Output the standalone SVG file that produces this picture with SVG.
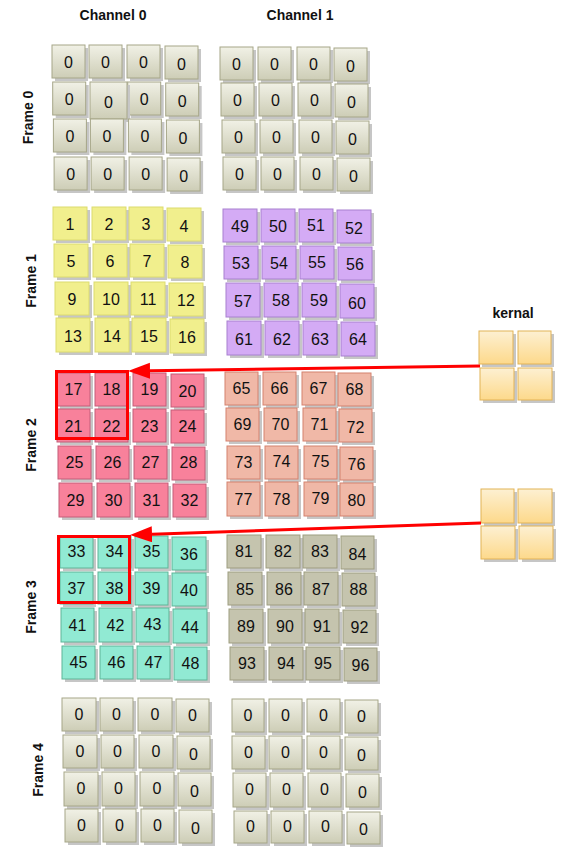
<svg xmlns="http://www.w3.org/2000/svg" width="563" height="853" viewBox="0 0 563 853">
<defs>
<linearGradient id="gg" x1="0" y1="0" x2="0" y2="1"><stop offset="0" stop-color="#f1f1e6"/><stop offset="1" stop-color="#cdcdb6"/></linearGradient>
<linearGradient id="kg" x1="0" y1="0" x2="0" y2="1"><stop offset="0" stop-color="#fdf0d2"/><stop offset="1" stop-color="#fdd98b"/></linearGradient>
<marker id="ah" markerUnits="userSpaceOnUse" markerWidth="24" markerHeight="18" refX="0" refY="8" orient="auto" viewBox="0 0 24 18"><path d="M0,0 L22,8 L0,16 z" fill="#ff0000"/></marker>
<style>
.sh{fill:#c6c6c6}
.gy{fill:url(#gg);stroke:#a6a688;stroke-width:1}
.gf{fill:#c5c4ae;stroke:#9e9d80;stroke-width:1}
.ye{fill:#f1ef8d;stroke:#dcdb6f;stroke-width:1}
.pu{fill:#d4abf5;stroke:#a880cf;stroke-width:1}
.pk{fill:#f8819b;stroke:#c45c78;stroke-width:1}
.sa{fill:#f0b8a7;stroke:#d4826f;stroke-width:1}
.te{fill:#91ead3;stroke:#5fb497;stroke-width:1}
.ke{fill:url(#kg);stroke:#e2b356;stroke-width:1}
text{font-family:"Liberation Sans",Arial,sans-serif;fill:#111}
.n{font-size:16px;text-anchor:middle}
.t{font-size:14px;font-weight:bold;text-anchor:middle}
.hl{fill:none;stroke:#ff0000;stroke-width:3}
.cn{stroke:#ff0000;stroke-width:3;fill:none}
</style>
</defs>
<rect width="563" height="853" fill="#ffffff"/>
<g id="labels">
<text class="t" x="113" y="20">Channel 0</text>
<text class="t" x="300" y="20">Channel 1</text>
<text class="t" x="513" y="318">kernal</text>
<text class="t" transform="translate(33,117.5) rotate(-90)">Frame 0</text>
<text class="t" transform="translate(35.5,281) rotate(-90)">Frame 1</text>
<text class="t" transform="translate(36,445) rotate(-90)">Frame 2</text>
<text class="t" transform="translate(36,607) rotate(-90)">Frame 3</text>
<text class="t" transform="translate(43,770) rotate(-90)">Frame 4</text>
</g>
<g id="frame0-channel0">
<g id="f0c0-1" transform="translate(52,45)"><rect class="sh" x="3" y="3" width="33" height="33"/><rect class="gy" width="33" height="33"/><text class="n" x="16.5" y="23">0</text></g>
<g id="f0c0-2" transform="translate(89,45)"><rect class="sh" x="3" y="3" width="33" height="33"/><rect class="gy" width="33" height="33"/><text class="n" x="16.5" y="23">0</text></g>
<g id="f0c0-3" transform="translate(127,45)"><rect class="sh" x="3" y="3" width="33" height="33"/><rect class="gy" width="33" height="33"/><text class="n" x="16.5" y="23">0</text></g>
<g id="f0c0-4" transform="translate(165,46)"><rect class="sh" x="3" y="3" width="33" height="33"/><rect class="gy" width="33" height="33"/><text class="n" x="16.5" y="24">0</text></g>
<g id="f0c0-5" transform="translate(52.7,82)"><rect class="sh" x="3" y="3" width="33" height="33"/><rect class="gy" width="33" height="33"/><text class="n" x="16.5" y="23">0</text></g>
<g id="f0c0-7" transform="translate(127.7,82)"><rect class="sh" x="3" y="3" width="33" height="33"/><rect class="gy" width="33" height="33"/><text class="n" x="16.5" y="23">0</text></g>
<g id="f0c0-6" transform="translate(90,82)"><rect class="sh" x="3" y="3" width="37" height="37"/><rect class="gy" width="37" height="37"/><text class="n" x="18.5" y="26">0</text></g>
<g id="f0c0-8" transform="translate(165.7,83)"><rect class="sh" x="3" y="3" width="33" height="33"/><rect class="gy" width="33" height="33"/><text class="n" x="16.5" y="24">0</text></g>
<g id="f0c0-9" transform="translate(53.4,119)"><rect class="sh" x="3" y="3" width="33" height="33"/><rect class="gy" width="33" height="33"/><text class="n" x="16.5" y="23">0</text></g>
<g id="f0c0-10" transform="translate(90.4,119)"><rect class="sh" x="3" y="3" width="33" height="33"/><rect class="gy" width="33" height="33"/><text class="n" x="16.5" y="23">0</text></g>
<g id="f0c0-11" transform="translate(128.4,119)"><rect class="sh" x="3" y="3" width="33" height="33"/><rect class="gy" width="33" height="33"/><text class="n" x="16.5" y="23">0</text></g>
<g id="f0c0-12" transform="translate(166.4,120)"><rect class="sh" x="3" y="3" width="33" height="33"/><rect class="gy" width="33" height="33"/><text class="n" x="16.5" y="24">0</text></g>
<g id="f0c0-13" transform="translate(54.1,157)"><rect class="sh" x="3" y="3" width="33" height="33"/><rect class="gy" width="33" height="33"/><text class="n" x="16.5" y="23">0</text></g>
<g id="f0c0-14" transform="translate(91.1,157)"><rect class="sh" x="3" y="3" width="33" height="33"/><rect class="gy" width="33" height="33"/><text class="n" x="16.5" y="23">0</text></g>
<g id="f0c0-15" transform="translate(129.1,157)"><rect class="sh" x="3" y="3" width="33" height="33"/><rect class="gy" width="33" height="33"/><text class="n" x="16.5" y="23">0</text></g>
<g id="f0c0-16" transform="translate(167.1,158)"><rect class="sh" x="3" y="3" width="33" height="33"/><rect class="gy" width="33" height="33"/><text class="n" x="16.5" y="24">0</text></g>
</g>
<g id="frame0-channel1">
<g id="f0c1-1" transform="translate(220,47)"><rect class="sh" x="3" y="3" width="33" height="33"/><rect class="gy" width="33" height="33"/><text class="n" x="16.5" y="23">0</text></g>
<g id="f0c1-2" transform="translate(258,47)"><rect class="sh" x="3" y="3" width="33" height="33"/><rect class="gy" width="33" height="33"/><text class="n" x="16.5" y="23">0</text></g>
<g id="f0c1-3" transform="translate(297,47)"><rect class="sh" x="3" y="3" width="33" height="33"/><rect class="gy" width="33" height="33"/><text class="n" x="16.5" y="23">0</text></g>
<g id="f0c1-4" transform="translate(334,48)"><rect class="sh" x="3" y="3" width="33" height="33"/><rect class="gy" width="33" height="33"/><text class="n" x="16.5" y="24">0</text></g>
<g id="f0c1-5" transform="translate(221,83)"><rect class="sh" x="3" y="3" width="33" height="33"/><rect class="gy" width="33" height="33"/><text class="n" x="16.5" y="23">0</text></g>
<g id="f0c1-6" transform="translate(259,83)"><rect class="sh" x="3" y="3" width="33" height="33"/><rect class="gy" width="33" height="33"/><text class="n" x="16.5" y="23">0</text></g>
<g id="f0c1-7" transform="translate(298,83)"><rect class="sh" x="3" y="3" width="33" height="33"/><rect class="gy" width="33" height="33"/><text class="n" x="16.5" y="23">0</text></g>
<g id="f0c1-8" transform="translate(335,84)"><rect class="sh" x="3" y="3" width="33" height="33"/><rect class="gy" width="33" height="33"/><text class="n" x="16.5" y="24">0</text></g>
<g id="f0c1-9" transform="translate(222,120)"><rect class="sh" x="3" y="3" width="33" height="33"/><rect class="gy" width="33" height="33"/><text class="n" x="16.5" y="23">0</text></g>
<g id="f0c1-10" transform="translate(260,120)"><rect class="sh" x="3" y="3" width="33" height="33"/><rect class="gy" width="33" height="33"/><text class="n" x="16.5" y="23">0</text></g>
<g id="f0c1-11" transform="translate(299,120)"><rect class="sh" x="3" y="3" width="33" height="33"/><rect class="gy" width="33" height="33"/><text class="n" x="16.5" y="23">0</text></g>
<g id="f0c1-12" transform="translate(336,121)"><rect class="sh" x="3" y="3" width="33" height="33"/><rect class="gy" width="33" height="33"/><text class="n" x="16.5" y="24">0</text></g>
<g id="f0c1-13" transform="translate(223,157)"><rect class="sh" x="3" y="3" width="33" height="33"/><rect class="gy" width="33" height="33"/><text class="n" x="16.5" y="23">0</text></g>
<g id="f0c1-14" transform="translate(261,157)"><rect class="sh" x="3" y="3" width="33" height="33"/><rect class="gy" width="33" height="33"/><text class="n" x="16.5" y="23">0</text></g>
<g id="f0c1-15" transform="translate(300,157)"><rect class="sh" x="3" y="3" width="33" height="33"/><rect class="gy" width="33" height="33"/><text class="n" x="16.5" y="23">0</text></g>
<g id="f0c1-16" transform="translate(337,158)"><rect class="sh" x="3" y="3" width="33" height="33"/><rect class="gy" width="33" height="33"/><text class="n" x="16.5" y="24">0</text></g>
</g>
<g id="frame1-channel0">
<g id="f1c0-1" transform="translate(53,207)"><rect class="sh" x="3" y="3" width="34" height="33"/><rect class="ye" width="34" height="33"/><text class="n" x="17" y="23">1</text></g>
<g id="f1c0-2" transform="translate(92,207)"><rect class="sh" x="3" y="3" width="34" height="33"/><rect class="ye" width="34" height="33"/><text class="n" x="17" y="23">2</text></g>
<g id="f1c0-3" transform="translate(129,207)"><rect class="sh" x="3" y="3" width="34" height="33"/><rect class="ye" width="34" height="33"/><text class="n" x="17" y="23">3</text></g>
<g id="f1c0-4" transform="translate(167,208)"><rect class="sh" x="3" y="3" width="34" height="33"/><rect class="ye" width="34" height="33"/><text class="n" x="17" y="24">4</text></g>
<g id="f1c0-5" transform="translate(54,244)"><rect class="sh" x="3" y="3" width="34" height="33"/><rect class="ye" width="34" height="33"/><text class="n" x="17" y="23">5</text></g>
<g id="f1c0-6" transform="translate(93,244)"><rect class="sh" x="3" y="3" width="34" height="33"/><rect class="ye" width="34" height="33"/><text class="n" x="17" y="23">6</text></g>
<g id="f1c0-7" transform="translate(130,244)"><rect class="sh" x="3" y="3" width="34" height="33"/><rect class="ye" width="34" height="33"/><text class="n" x="17" y="23">7</text></g>
<g id="f1c0-8" transform="translate(168,245)"><rect class="sh" x="3" y="3" width="34" height="33"/><rect class="ye" width="34" height="33"/><text class="n" x="17" y="23">8</text></g>
<g id="f1c0-9" transform="translate(55,282)"><rect class="sh" x="3" y="3" width="34" height="33"/><rect class="ye" width="34" height="33"/><text class="n" x="17" y="23">9</text></g>
<g id="f1c0-10" transform="translate(94,282)"><rect class="sh" x="3" y="3" width="34" height="33"/><rect class="ye" width="34" height="33"/><text class="n" x="17" y="23">10</text></g>
<g id="f1c0-11" transform="translate(131,282)"><rect class="sh" x="3" y="3" width="34" height="33"/><rect class="ye" width="34" height="33"/><text class="n" x="17" y="23">11</text></g>
<g id="f1c0-12" transform="translate(169,283)"><rect class="sh" x="3" y="3" width="34" height="33"/><rect class="ye" width="34" height="33"/><text class="n" x="17" y="23">12</text></g>
<g id="f1c0-13" transform="translate(56,318)"><rect class="sh" x="3" y="3" width="34" height="34"/><rect class="ye" width="34" height="34"/><text class="n" x="17" y="24">13</text></g>
<g id="f1c0-14" transform="translate(95,318)"><rect class="sh" x="3" y="3" width="34" height="34"/><rect class="ye" width="34" height="34"/><text class="n" x="17" y="24">14</text></g>
<g id="f1c0-15" transform="translate(132,318)"><rect class="sh" x="3" y="3" width="34" height="34"/><rect class="ye" width="34" height="34"/><text class="n" x="17" y="24">15</text></g>
<g id="f1c0-16" transform="translate(170,319)"><rect class="sh" x="3" y="3" width="34" height="34"/><rect class="ye" width="34" height="34"/><text class="n" x="17" y="24">16</text></g>
</g>
<g id="frame1-channel1">
<g id="f1c1-1" transform="translate(223,209)"><rect class="sh" x="3" y="3" width="34" height="33"/><rect class="pu" width="34" height="33"/><text class="n" x="17" y="23">49</text></g>
<g id="f1c1-2" transform="translate(261,209)"><rect class="sh" x="3" y="3" width="34" height="33"/><rect class="pu" width="34" height="33"/><text class="n" x="17" y="23">50</text></g>
<g id="f1c1-3" transform="translate(299,209)"><rect class="sh" x="3" y="3" width="34" height="33"/><rect class="pu" width="34" height="33"/><text class="n" x="17" y="22">51</text></g>
<g id="f1c1-4" transform="translate(337,210)"><rect class="sh" x="3" y="3" width="34" height="33"/><rect class="pu" width="34" height="33"/><text class="n" x="17" y="24">52</text></g>
<g id="f1c1-5" transform="translate(224,246)"><rect class="sh" x="3" y="3" width="34" height="33"/><rect class="pu" width="34" height="33"/><text class="n" x="17" y="23">53</text></g>
<g id="f1c1-6" transform="translate(262,246)"><rect class="sh" x="3" y="3" width="34" height="33"/><rect class="pu" width="34" height="33"/><text class="n" x="17" y="23">54</text></g>
<g id="f1c1-7" transform="translate(300,246)"><rect class="sh" x="3" y="3" width="34" height="33"/><rect class="pu" width="34" height="33"/><text class="n" x="17" y="22">55</text></g>
<g id="f1c1-8" transform="translate(338,247)"><rect class="sh" x="3" y="3" width="34" height="33"/><rect class="pu" width="34" height="33"/><text class="n" x="17" y="23">56</text></g>
<g id="f1c1-9" transform="translate(226,283)"><rect class="sh" x="3" y="3" width="34" height="34"/><rect class="pu" width="34" height="34"/><text class="n" x="17" y="24">57</text></g>
<g id="f1c1-10" transform="translate(264,283)"><rect class="sh" x="3" y="3" width="34" height="34"/><rect class="pu" width="34" height="34"/><text class="n" x="17" y="23">58</text></g>
<g id="f1c1-11" transform="translate(302,283)"><rect class="sh" x="3" y="3" width="34" height="34"/><rect class="pu" width="34" height="34"/><text class="n" x="17" y="23">59</text></g>
<g id="f1c1-12" transform="translate(340,284)"><rect class="sh" x="3" y="3" width="34" height="34"/><rect class="pu" width="34" height="34"/><text class="n" x="17" y="25">60</text></g>
<g id="f1c1-13" transform="translate(227,321)"><rect class="sh" x="3" y="3" width="34" height="34"/><rect class="pu" width="34" height="34"/><text class="n" x="17" y="24">61</text></g>
<g id="f1c1-14" transform="translate(265,321)"><rect class="sh" x="3" y="3" width="34" height="34"/><rect class="pu" width="34" height="34"/><text class="n" x="17" y="24">62</text></g>
<g id="f1c1-15" transform="translate(303,321)"><rect class="sh" x="3" y="3" width="34" height="34"/><rect class="pu" width="34" height="34"/><text class="n" x="17" y="24">63</text></g>
<g id="f1c1-16" transform="translate(341,322)"><rect class="sh" x="3" y="3" width="34" height="34"/><rect class="pu" width="34" height="34"/><text class="n" x="17" y="23">64</text></g>
</g>
<g id="frame2-channel0">
<g id="f2c0-1" transform="translate(57,373)"><rect class="sh" x="3" y="3" width="33" height="33"/><rect class="pk" width="33" height="33"/><text class="n" x="16.5" y="22">17</text></g>
<g id="f2c0-2" transform="translate(95,373)"><rect class="sh" x="3" y="3" width="33" height="33"/><rect class="pk" width="33" height="33"/><text class="n" x="16.5" y="22">18</text></g>
<g id="f2c0-3" transform="translate(133,373)"><rect class="sh" x="3" y="3" width="33" height="33"/><rect class="pk" width="33" height="33"/><text class="n" x="16.5" y="22">19</text></g>
<g id="f2c0-4" transform="translate(171,374)"><rect class="sh" x="3" y="3" width="33" height="33"/><rect class="pk" width="33" height="33"/><text class="n" x="16.5" y="23">20</text></g>
<g id="f2c0-5" transform="translate(57,409)"><rect class="sh" x="3" y="3" width="33" height="33"/><rect class="pk" width="33" height="33"/><text class="n" x="16.5" y="23">21</text></g>
<g id="f2c0-6" transform="translate(95,409)"><rect class="sh" x="3" y="3" width="33" height="33"/><rect class="pk" width="33" height="33"/><text class="n" x="16.5" y="23">22</text></g>
<g id="f2c0-7" transform="translate(133,409)"><rect class="sh" x="3" y="3" width="33" height="33"/><rect class="pk" width="33" height="33"/><text class="n" x="16.5" y="23">23</text></g>
<g id="f2c0-8" transform="translate(171,410)"><rect class="sh" x="3" y="3" width="33" height="33"/><rect class="pk" width="33" height="33"/><text class="n" x="16.5" y="22">24</text></g>
<g id="f2c0-9" transform="translate(58,446)"><rect class="sh" x="3" y="3" width="33" height="33"/><rect class="pk" width="33" height="33"/><text class="n" x="16.5" y="22">25</text></g>
<g id="f2c0-10" transform="translate(96,446)"><rect class="sh" x="3" y="3" width="33" height="33"/><rect class="pk" width="33" height="33"/><text class="n" x="16.5" y="22">26</text></g>
<g id="f2c0-11" transform="translate(134,446)"><rect class="sh" x="3" y="3" width="33" height="33"/><rect class="pk" width="33" height="33"/><text class="n" x="16.5" y="22">27</text></g>
<g id="f2c0-12" transform="translate(172,447)"><rect class="sh" x="3" y="3" width="33" height="33"/><rect class="pk" width="33" height="33"/><text class="n" x="16.5" y="21">28</text></g>
<g id="f2c0-13" transform="translate(59,483)"><rect class="sh" x="3" y="3" width="33" height="34"/><rect class="pk" width="33" height="34"/><text class="n" x="16.5" y="23">29</text></g>
<g id="f2c0-14" transform="translate(97,483)"><rect class="sh" x="3" y="3" width="33" height="34"/><rect class="pk" width="33" height="34"/><text class="n" x="16.5" y="23">30</text></g>
<g id="f2c0-15" transform="translate(135,483)"><rect class="sh" x="3" y="3" width="33" height="34"/><rect class="pk" width="33" height="34"/><text class="n" x="16.5" y="23">31</text></g>
<g id="f2c0-16" transform="translate(173,484)"><rect class="sh" x="3" y="3" width="33" height="33"/><rect class="pk" width="33" height="33"/><text class="n" x="16.5" y="22">32</text></g>
</g>
<g id="frame2-channel1">
<g id="f2c1-1" transform="translate(225,372)"><rect class="sh" x="3" y="3" width="33" height="33"/><rect class="sa" width="33" height="33"/><text class="n" x="16.5" y="22">65</text></g>
<g id="f2c1-2" transform="translate(263,372)"><rect class="sh" x="3" y="3" width="33" height="33"/><rect class="sa" width="33" height="33"/><text class="n" x="16.5" y="22">66</text></g>
<g id="f2c1-3" transform="translate(302,372)"><rect class="sh" x="3" y="3" width="33" height="33"/><rect class="sa" width="33" height="33"/><text class="n" x="16.5" y="22">67</text></g>
<g id="f2c1-4" transform="translate(338,373)"><rect class="sh" x="3" y="3" width="33" height="33"/><rect class="sa" width="33" height="33"/><text class="n" x="16.5" y="22">68</text></g>
<g id="f2c1-5" transform="translate(226,408)"><rect class="sh" x="3" y="3" width="33" height="33"/><rect class="sa" width="33" height="33"/><text class="n" x="16.5" y="22">69</text></g>
<g id="f2c1-6" transform="translate(264,408)"><rect class="sh" x="3" y="3" width="33" height="33"/><rect class="sa" width="33" height="33"/><text class="n" x="16.5" y="22">70</text></g>
<g id="f2c1-7" transform="translate(303,408)"><rect class="sh" x="3" y="3" width="33" height="33"/><rect class="sa" width="33" height="33"/><text class="n" x="16.5" y="22">71</text></g>
<g id="f2c1-8" transform="translate(339,409)"><rect class="sh" x="3" y="3" width="33" height="33"/><rect class="sa" width="33" height="33"/><text class="n" x="16.5" y="24">72</text></g>
<g id="f2c1-9" transform="translate(227,446)"><rect class="sh" x="3" y="3" width="33" height="33"/><rect class="sa" width="33" height="33"/><text class="n" x="16.5" y="22">73</text></g>
<g id="f2c1-10" transform="translate(265,446)"><rect class="sh" x="3" y="3" width="33" height="33"/><rect class="sa" width="33" height="33"/><text class="n" x="16.5" y="21">74</text></g>
<g id="f2c1-11" transform="translate(304,446)"><rect class="sh" x="3" y="3" width="33" height="33"/><rect class="sa" width="33" height="33"/><text class="n" x="16.5" y="21">75</text></g>
<g id="f2c1-12" transform="translate(340,447)"><rect class="sh" x="3" y="3" width="33" height="33"/><rect class="sa" width="33" height="33"/><text class="n" x="16.5" y="23">76</text></g>
<g id="f2c1-13" transform="translate(227,482)"><rect class="sh" x="3" y="3" width="33" height="34"/><rect class="sa" width="33" height="34"/><text class="n" x="16.5" y="23">77</text></g>
<g id="f2c1-14" transform="translate(265,482)"><rect class="sh" x="3" y="3" width="33" height="34"/><rect class="sa" width="33" height="34"/><text class="n" x="16.5" y="23">78</text></g>
<g id="f2c1-15" transform="translate(304,482)"><rect class="sh" x="3" y="3" width="33" height="34"/><rect class="sa" width="33" height="34"/><text class="n" x="16.5" y="22">79</text></g>
<g id="f2c1-16" transform="translate(340,483)"><rect class="sh" x="3" y="3" width="33" height="33"/><rect class="sa" width="33" height="33"/><text class="n" x="16.5" y="23">80</text></g>
</g>
<g id="frame3-channel0">
<g id="f3c0-1" transform="translate(60,536)"><rect class="sh" x="3" y="3" width="33" height="32"/><rect class="te" width="33" height="32"/><text class="n" x="16.5" y="21">33</text></g>
<g id="f3c0-2" transform="translate(98,536)"><rect class="sh" x="3" y="3" width="33" height="32"/><rect class="te" width="33" height="32"/><text class="n" x="16.5" y="21">34</text></g>
<g id="f3c0-3" transform="translate(135,536)"><rect class="sh" x="3" y="3" width="33" height="32"/><rect class="te" width="33" height="32"/><text class="n" x="16.5" y="21">35</text></g>
<g id="f3c0-4" transform="translate(172,537)"><rect class="sh" x="3" y="3" width="34" height="33"/><rect class="te" width="34" height="33"/><text class="n" x="17" y="23">36</text></g>
<g id="f3c0-5" transform="translate(60,572)"><rect class="sh" x="3" y="3" width="33" height="32"/><rect class="te" width="33" height="32"/><text class="n" x="16.5" y="22">37</text></g>
<g id="f3c0-6" transform="translate(98,572)"><rect class="sh" x="3" y="3" width="33" height="32"/><rect class="te" width="33" height="32"/><text class="n" x="16.5" y="22">38</text></g>
<g id="f3c0-7" transform="translate(135,572)"><rect class="sh" x="3" y="3" width="33" height="33"/><rect class="te" width="33" height="33"/><text class="n" x="16.5" y="22">39</text></g>
<g id="f3c0-8" transform="translate(172,573)"><rect class="sh" x="3" y="3" width="34" height="33"/><rect class="te" width="34" height="33"/><text class="n" x="17" y="23">40</text></g>
<g id="f3c0-9" transform="translate(61,608)"><rect class="sh" x="3" y="3" width="33" height="34"/><rect class="te" width="33" height="34"/><text class="n" x="16.5" y="23">41</text></g>
<g id="f3c0-10" transform="translate(99,608)"><rect class="sh" x="3" y="3" width="33" height="34"/><rect class="te" width="33" height="34"/><text class="n" x="16.5" y="23">42</text></g>
<g id="f3c0-11" transform="translate(136,608)"><rect class="sh" x="3" y="3" width="33" height="34"/><rect class="te" width="33" height="34"/><text class="n" x="16.5" y="22">43</text></g>
<g id="f3c0-12" transform="translate(173,609)"><rect class="sh" x="3" y="3" width="34" height="34"/><rect class="te" width="34" height="34"/><text class="n" x="17" y="24">44</text></g>
<g id="f3c0-13" transform="translate(62,646)"><rect class="sh" x="3" y="3" width="33" height="33"/><rect class="te" width="33" height="33"/><text class="n" x="16.5" y="22">45</text></g>
<g id="f3c0-14" transform="translate(100,646)"><rect class="sh" x="3" y="3" width="33" height="33"/><rect class="te" width="33" height="33"/><text class="n" x="16.5" y="22">46</text></g>
<g id="f3c0-15" transform="translate(137,646)"><rect class="sh" x="3" y="3" width="33" height="33"/><rect class="te" width="33" height="33"/><text class="n" x="16.5" y="22">47</text></g>
<g id="f3c0-16" transform="translate(174,647)"><rect class="sh" x="3" y="3" width="33" height="33"/><rect class="te" width="33" height="33"/><text class="n" x="16.5" y="22">48</text></g>
</g>
<g id="frame3-channel1">
<g id="f3c1-1" transform="translate(227,535)"><rect class="sh" x="3" y="3" width="34" height="33"/><rect class="gf" width="34" height="33"/><text class="n" x="17" y="22">81</text></g>
<g id="f3c1-2" transform="translate(266,535)"><rect class="sh" x="3" y="3" width="34" height="33"/><rect class="gf" width="34" height="33"/><text class="n" x="17" y="22">82</text></g>
<g id="f3c1-3" transform="translate(303,535)"><rect class="sh" x="3" y="3" width="34" height="33"/><rect class="gf" width="34" height="33"/><text class="n" x="17" y="22">83</text></g>
<g id="f3c1-4" transform="translate(341,536)"><rect class="sh" x="3" y="3" width="33" height="33"/><rect class="gf" width="33" height="33"/><text class="n" x="16.5" y="24">84</text></g>
<g id="f3c1-5" transform="translate(228,572)"><rect class="sh" x="3" y="3" width="34" height="33"/><rect class="gf" width="34" height="33"/><text class="n" x="17" y="23">85</text></g>
<g id="f3c1-6" transform="translate(267,572)"><rect class="sh" x="3" y="3" width="34" height="33"/><rect class="gf" width="34" height="33"/><text class="n" x="17" y="23">86</text></g>
<g id="f3c1-7" transform="translate(304,572)"><rect class="sh" x="3" y="3" width="34" height="33"/><rect class="gf" width="34" height="33"/><text class="n" x="17" y="23">87</text></g>
<g id="f3c1-8" transform="translate(342,573)"><rect class="sh" x="3" y="3" width="33" height="33"/><rect class="gf" width="33" height="33"/><text class="n" x="16.5" y="22">88</text></g>
<g id="f3c1-9" transform="translate(229,609)"><rect class="sh" x="3" y="3" width="34" height="34"/><rect class="gf" width="34" height="34"/><text class="n" x="17" y="23">89</text></g>
<g id="f3c1-10" transform="translate(268,609)"><rect class="sh" x="3" y="3" width="34" height="34"/><rect class="gf" width="34" height="34"/><text class="n" x="17" y="23">90</text></g>
<g id="f3c1-11" transform="translate(305,609)"><rect class="sh" x="3" y="3" width="34" height="34"/><rect class="gf" width="34" height="34"/><text class="n" x="17" y="23">91</text></g>
<g id="f3c1-12" transform="translate(343,610)"><rect class="sh" x="3" y="3" width="33" height="33"/><rect class="gf" width="33" height="33"/><text class="n" x="16.5" y="23">92</text></g>
<g id="f3c1-13" transform="translate(230,647)"><rect class="sh" x="3" y="3" width="34" height="33"/><rect class="gf" width="34" height="33"/><text class="n" x="17" y="22">93</text></g>
<g id="f3c1-14" transform="translate(269,647)"><rect class="sh" x="3" y="3" width="34" height="33"/><rect class="gf" width="34" height="33"/><text class="n" x="17" y="22">94</text></g>
<g id="f3c1-15" transform="translate(306,647)"><rect class="sh" x="3" y="3" width="34" height="33"/><rect class="gf" width="34" height="33"/><text class="n" x="17" y="22">95</text></g>
<g id="f3c1-16" transform="translate(344,648)"><rect class="sh" x="3" y="3" width="33" height="33"/><rect class="gf" width="33" height="33"/><text class="n" x="16.5" y="23">96</text></g>
</g>
<g id="frame4-channel0">
<g id="f4c0-1" transform="translate(62,698)"><rect class="sh" x="3" y="3" width="34" height="33"/><rect class="gy" width="34" height="33"/><text class="n" x="17" y="22">0</text></g>
<g id="f4c0-2" transform="translate(100,698)"><rect class="sh" x="3" y="3" width="33" height="33"/><rect class="gy" width="33" height="33"/><text class="n" x="16.5" y="22">0</text></g>
<g id="f4c0-3" transform="translate(138,698)"><rect class="sh" x="3" y="3" width="34" height="33"/><rect class="gy" width="34" height="33"/><text class="n" x="17" y="22">0</text></g>
<g id="f4c0-4" transform="translate(176,699)"><rect class="sh" x="3" y="3" width="33" height="33"/><rect class="gy" width="33" height="33"/><text class="n" x="16.5" y="22">0</text></g>
<g id="f4c0-5" transform="translate(63,735)"><rect class="sh" x="3" y="3" width="34" height="33"/><rect class="gy" width="34" height="33"/><text class="n" x="17" y="22">0</text></g>
<g id="f4c0-6" transform="translate(101,735)"><rect class="sh" x="3" y="3" width="33" height="33"/><rect class="gy" width="33" height="33"/><text class="n" x="16.5" y="22">0</text></g>
<g id="f4c0-7" transform="translate(139,735)"><rect class="sh" x="3" y="3" width="34" height="33"/><rect class="gy" width="34" height="33"/><text class="n" x="17" y="22">0</text></g>
<g id="f4c0-8" transform="translate(177,736)"><rect class="sh" x="3" y="3" width="33" height="33"/><rect class="gy" width="33" height="33"/><text class="n" x="16.5" y="24">0</text></g>
<g id="f4c0-9" transform="translate(64,772)"><rect class="sh" x="3" y="3" width="34" height="34"/><rect class="gy" width="34" height="34"/><text class="n" x="17" y="22">0</text></g>
<g id="f4c0-10" transform="translate(102,772)"><rect class="sh" x="3" y="3" width="33" height="34"/><rect class="gy" width="33" height="34"/><text class="n" x="16.5" y="22">0</text></g>
<g id="f4c0-11" transform="translate(140,772)"><rect class="sh" x="3" y="3" width="34" height="34"/><rect class="gy" width="34" height="34"/><text class="n" x="17" y="22">0</text></g>
<g id="f4c0-12" transform="translate(178,773)"><rect class="sh" x="3" y="3" width="33" height="33"/><rect class="gy" width="33" height="33"/><text class="n" x="16.5" y="24">0</text></g>
<g id="f4c0-13" transform="translate(65,809)"><rect class="sh" x="3" y="3" width="33" height="33"/><rect class="gy" width="33" height="33"/><text class="n" x="16.5" y="22">0</text></g>
<g id="f4c0-14" transform="translate(103,809)"><rect class="sh" x="3" y="3" width="33" height="33"/><rect class="gy" width="33" height="33"/><text class="n" x="16.5" y="22">0</text></g>
<g id="f4c0-15" transform="translate(141,809)"><rect class="sh" x="3" y="3" width="33" height="33"/><rect class="gy" width="33" height="33"/><text class="n" x="16.5" y="22">0</text></g>
<g id="f4c0-16" transform="translate(179,810)"><rect class="sh" x="3" y="3" width="33" height="33"/><rect class="gy" width="33" height="33"/><text class="n" x="16.5" y="24">0</text></g>
</g>
<g id="frame4-channel1">
<g id="f4c1-1" transform="translate(232,699)"><rect class="sh" x="3" y="3" width="32" height="33"/><rect class="gy" width="32" height="33"/><text class="n" x="16" y="22">0</text></g>
<g id="f4c1-2" transform="translate(269,699)"><rect class="sh" x="3" y="3" width="33" height="33"/><rect class="gy" width="33" height="33"/><text class="n" x="16.5" y="22">0</text></g>
<g id="f4c1-3" transform="translate(307,699)"><rect class="sh" x="3" y="3" width="33" height="33"/><rect class="gy" width="33" height="33"/><text class="n" x="16.5" y="22">0</text></g>
<g id="f4c1-4" transform="translate(345,700)"><rect class="sh" x="3" y="3" width="33" height="33"/><rect class="gy" width="33" height="33"/><text class="n" x="16.5" y="22">0</text></g>
<g id="f4c1-5" transform="translate(232,736)"><rect class="sh" x="3" y="3" width="33" height="33"/><rect class="gy" width="33" height="33"/><text class="n" x="16.5" y="22">0</text></g>
<g id="f4c1-6" transform="translate(269,736)"><rect class="sh" x="3" y="3" width="33" height="33"/><rect class="gy" width="33" height="33"/><text class="n" x="16.5" y="22">0</text></g>
<g id="f4c1-7" transform="translate(307,736)"><rect class="sh" x="3" y="3" width="33" height="33"/><rect class="gy" width="33" height="33"/><text class="n" x="16.5" y="22">0</text></g>
<g id="f4c1-8" transform="translate(345,737)"><rect class="sh" x="3" y="3" width="33" height="33"/><rect class="gy" width="33" height="33"/><text class="n" x="16.5" y="24">0</text></g>
<g id="f4c1-9" transform="translate(233,773)"><rect class="sh" x="3" y="3" width="33" height="34"/><rect class="gy" width="33" height="34"/><text class="n" x="16.5" y="22">0</text></g>
<g id="f4c1-10" transform="translate(270,773)"><rect class="sh" x="3" y="3" width="33" height="34"/><rect class="gy" width="33" height="34"/><text class="n" x="16.5" y="22">0</text></g>
<g id="f4c1-11" transform="translate(308,773)"><rect class="sh" x="3" y="3" width="33" height="34"/><rect class="gy" width="33" height="34"/><text class="n" x="16.5" y="22">0</text></g>
<g id="f4c1-12" transform="translate(346,774)"><rect class="sh" x="3" y="3" width="33" height="33"/><rect class="gy" width="33" height="33"/><text class="n" x="16.5" y="24">0</text></g>
<g id="f4c1-13" transform="translate(234,811)"><rect class="sh" x="3" y="3" width="33" height="32"/><rect class="gy" width="33" height="32"/><text class="n" x="16.5" y="21">0</text></g>
<g id="f4c1-14" transform="translate(271,811)"><rect class="sh" x="3" y="3" width="33" height="32"/><rect class="gy" width="33" height="32"/><text class="n" x="16.5" y="21">0</text></g>
<g id="f4c1-15" transform="translate(309,811)"><rect class="sh" x="3" y="3" width="33" height="32"/><rect class="gy" width="33" height="32"/><text class="n" x="16.5" y="21">0</text></g>
<g id="f4c1-16" transform="translate(347,812)"><rect class="sh" x="3" y="3" width="33" height="32"/><rect class="gy" width="33" height="32"/><text class="n" x="16.5" y="23">0</text></g>
</g>
<g id="kernel-1">
<g id="k1-1" transform="translate(479,331)"><rect class="sh" x="3" y="3" width="34" height="33"/><rect class="ke" width="34" height="33"/></g>
<g id="k1-2" transform="translate(518,331)"><rect class="sh" x="3" y="3" width="33" height="33"/><rect class="ke" width="33" height="33"/></g>
<g id="k1-3" transform="translate(480,368)"><rect class="sh" x="3" y="3" width="34" height="32"/><rect class="ke" width="34" height="32"/></g>
<g id="k1-4" transform="translate(518,368)"><rect class="sh" x="3" y="3" width="34" height="32"/><rect class="ke" width="34" height="32"/></g>
</g>
<g id="kernel-2">
<g id="k2-1" transform="translate(481,489)"><rect class="sh" x="3" y="3" width="33" height="34"/><rect class="ke" width="33" height="34"/></g>
<g id="k2-2" transform="translate(518,489)"><rect class="sh" x="3" y="3" width="34" height="34"/><rect class="ke" width="34" height="34"/></g>
<g id="k2-3" transform="translate(481,526)"><rect class="sh" x="3" y="3" width="34" height="33"/><rect class="ke" width="34" height="33"/></g>
<g id="k2-4" transform="translate(519,526)"><rect class="sh" x="3" y="3" width="34" height="33"/><rect class="ke" width="34" height="33"/></g>
</g>
<g id="highlights">
<rect class="hl" x="56.5" y="371.5" width="71" height="67"/>
<rect class="hl" x="58.5" y="536.5" width="71" height="66"/>
</g>
<g id="connectors">
<line class="cn" x1="480" y1="366" x2="150" y2="370.7" marker-end="url(#ah)"/>
<line class="cn" x1="481" y1="523" x2="152" y2="534.3" marker-end="url(#ah)"/>
</g>
</svg>
